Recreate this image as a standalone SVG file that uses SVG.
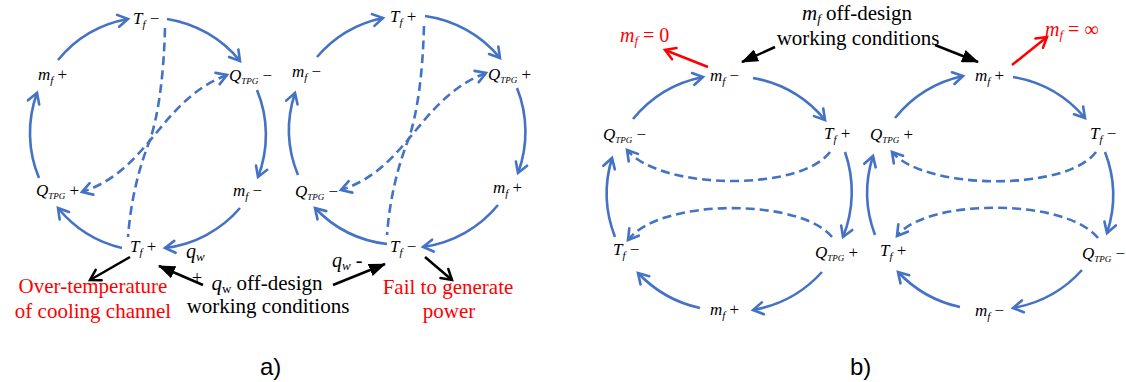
<svg xmlns="http://www.w3.org/2000/svg" width="1126" height="382" viewBox="0 0 1126 382">
<style>
text{font-family:"Liberation Serif","Times New Roman",serif;fill:#000}
.n{font-size:17px}
.i{font-style:italic}
.s{font-size:11px;font-style:italic}
.sq{font-size:9px;font-style:italic}
.big{font-size:21px}
.red{fill:#FF0000}
.lab{font-family:"Liberation Sans",Arial,sans-serif;font-size:24px}
.c{fill:none;stroke:#4472C4;stroke-width:2.6}
.sol{marker-end:url(#ab)}
.d{stroke-dasharray:9 5}
.k{fill:none;stroke:#000;stroke-width:2.5}
.r{fill:none;stroke:#FF0000;stroke-width:2.5;marker-end:url(#ar)}
</style>
<defs>
<marker id="ab" markerUnits="userSpaceOnUse" markerWidth="16" markerHeight="16" viewBox="0 0 16 16" refX="13" refY="8" orient="auto-start-reverse"><path d="M3,2 L13,8 L3,14" fill="none" stroke="#4472C4" stroke-width="2.6" stroke-linecap="round"/></marker>
<marker id="ak" markerUnits="userSpaceOnUse" markerWidth="16" markerHeight="16" viewBox="0 0 16 16" refX="13" refY="8" orient="auto"><path d="M3,2 L13,8 L3,14" fill="none" stroke="#000" stroke-width="2.5" stroke-linecap="round"/></marker>
<marker id="ar" markerUnits="userSpaceOnUse" markerWidth="16" markerHeight="16" viewBox="0 0 16 16" refX="13" refY="8" orient="auto"><path d="M3,2 L13,8 L3,14" fill="none" stroke="#FF0000" stroke-width="2.5" stroke-linecap="round"/></marker>
<marker id="fk" markerUnits="userSpaceOnUse" markerWidth="17" markerHeight="13" viewBox="0 0 17 13" refX="16" refY="6.5" orient="auto"><path d="M0,0 L17,6.5 L0,13 z" fill="#000"/></marker>
</defs>

<g id="connectors">
<!-- panel a, left loop -->
<path class="c sol" d="M58,60 A117,117 0 0 1 128,19"/>
<path class="c sol" d="M167,19 A117,117 0 0 1 240,61"/>
<path class="c sol" d="M257,90 A117,117 0 0 1 258,177"/>
<path class="c sol" d="M240,208 A117,117 0 0 1 165,248"/>
<path class="c sol" d="M122,248 A117,117 0 0 1 58,208"/>
<path class="c sol" d="M39,178 A117,117 0 0 1 37,93"/>
<path class="c d" d="M165,28 Q163,100 150,140 Q132,185 128,237"/>
<path class="c d" d="M227,75 C160,100 150,170 82,192" marker-start="url(#ab)" marker-end="url(#ab)"/>
<!-- panel a, right loop -->
<path class="c sol" d="M317,57 A118,118 0 0 1 383,18"/>
<path class="c sol" d="M425,16 A118,118 0 0 1 500,58"/>
<path class="c sol" d="M517,88 A118,118 0 0 1 518,173"/>
<path class="c sol" d="M498,205 A118,118 0 0 1 423,247"/>
<path class="c sol" d="M387,244 A118,118 0 0 1 315,208"/>
<path class="c sol" d="M298,175 A118,118 0 0 1 295,93"/>
<path class="c d" d="M424,26 Q422,98 409,138 Q391,183 387,235"/>
<path class="c d" d="M486,73 C419,98 409,168 341,190" marker-start="url(#ab)" marker-end="url(#ab)"/>
<!-- panel a, black arrows -->
<path class="k" d="M130,257 L90,280" marker-end="url(#ak)"/>
<path class="k" d="M203,285 L159,266" marker-end="url(#fk)"/>
<path class="k" d="M333,285 L385,264" marker-end="url(#fk)"/>
<path class="k" d="M425,257 L452,280" marker-end="url(#ak)"/>
<!-- panel b, left loop -->
<path class="c sol" d="M633,119 A121,121 0 0 1 703,77"/>
<path class="c sol" d="M753,78 A121,121 0 0 1 825,120"/>
<path class="c sol" d="M845,152 A121,121 0 0 1 843,237"/>
<path class="c sol" d="M822,272 A121,121 0 0 1 753,310"/>
<path class="c sol" d="M700,308 A121,121 0 0 1 638,273"/>
<path class="c sol" d="M615,237 A121,121 0 0 1 612,158"/>
<path class="c d sol" d="M830,152 C800,192 660,190 627,150"/>
<path class="c d sol" d="M832,237 C800,198 660,198 628,240"/>
<!-- panel b, right loop -->
<path class="c sol" d="M895,118 A120,120 0 0 1 963,76"/>
<path class="c sol" d="M1013,77 A120,120 0 0 1 1085,118"/>
<path class="c sol" d="M1105,152 A120,120 0 0 1 1107,233"/>
<path class="c sol" d="M1082,270 A120,120 0 0 1 1013,308"/>
<path class="c sol" d="M960,307 A120,120 0 0 1 898,272"/>
<path class="c sol" d="M875,235 A120,120 0 0 1 873,156"/>
<path class="c d sol" d="M1096,152 C1066,192 924,190 892,152"/>
<path class="c d sol" d="M1098,238 C1066,198 926,198 897,236"/>
<!-- panel b, black and red arrows -->
<path class="k" d="M775,47 L742,62" marker-end="url(#fk)"/>
<path class="k" d="M935,45 L978,62" marker-end="url(#fk)"/>
<path class="r" d="M708,67 L665,50"/>
<path class="r" d="M1012,65 L1047,37"/>
</g>

<!-- panel a left loop nodes -->
<g id="a1-Tf-minus"><text class="n" x="133" y="24"><tspan class="i">T</tspan><tspan class="s" dy="4">f</tspan><tspan dy="-4"> −</tspan></text></g>
<g id="a1-mf-plus"><text class="n" x="38" y="80"><tspan class="i">m</tspan><tspan class="s" dy="4">f</tspan><tspan dy="-4"> +</tspan></text></g>
<g id="a1-Q-minus"><text class="n" x="229" y="81"><tspan class="i">Q</tspan><tspan class="sq" dy="3">TPG</tspan><tspan dy="-3"> −</tspan></text></g>
<g id="a1-Q-plus"><text class="n" x="36" y="196"><tspan class="i">Q</tspan><tspan class="sq" dy="3">TPG</tspan><tspan dy="-3"> +</tspan></text></g>
<g id="a1-mf-minus"><text class="n" x="233" y="196"><tspan class="i">m</tspan><tspan class="s" dy="4">f</tspan><tspan dy="-4"> −</tspan></text></g>
<g id="a1-Tf-plus"><text class="n" x="130" y="252"><tspan class="i">T</tspan><tspan class="s" dy="4">f</tspan><tspan dy="-4"> +</tspan></text></g>
<g id="a1-qw"><text x="186" y="258" font-size="20"><tspan class="i">q</tspan><tspan font-size="13" font-style="italic" dy="3">w</tspan></text>
<text x="192" y="284" font-size="18">+</text></g>

<!-- panel a right loop nodes -->
<g id="a2-Tf-plus"><text class="n" x="390" y="22"><tspan class="i">T</tspan><tspan class="s" dy="4">f</tspan><tspan dy="-4"> +</tspan></text></g>
<g id="a2-mf-minus"><text class="n" x="292" y="77"><tspan class="i">m</tspan><tspan class="s" dy="4">f</tspan><tspan dy="-4"> −</tspan></text></g>
<g id="a2-Q-plus"><text class="n" x="488" y="80"><tspan class="i">Q</tspan><tspan class="sq" dy="3">TPG</tspan><tspan dy="-3"> +</tspan></text></g>
<g id="a2-Q-minus"><text class="n" x="295" y="197"><tspan class="i">Q</tspan><tspan class="sq" dy="3">TPG</tspan><tspan dy="-3"> −</tspan></text></g>
<g id="a2-mf-plus"><text class="n" x="493" y="193"><tspan class="i">m</tspan><tspan class="s" dy="4">f</tspan><tspan dy="-4"> +</tspan></text></g>
<g id="a2-Tf-minus"><text class="n" x="390" y="252"><tspan class="i">T</tspan><tspan class="s" dy="4">f</tspan><tspan dy="-4"> −</tspan></text></g>
<g id="a2-qw"><text x="332" y="267" font-size="20"><tspan class="i">q</tspan><tspan font-size="13" font-style="italic" dy="3">w</tspan><tspan dy="-3"> -</tspan></text></g>

<!-- panel a annotations -->
<g id="a-overtemp"><text class="big red" x="93" y="293" text-anchor="middle">Over-temperature</text><text class="big red" x="93" y="318" text-anchor="middle">of cooling channel</text></g>
<g id="a-qw-offdesign"><text class="big" x="267" y="290" text-anchor="middle"><tspan class="i">q</tspan><tspan font-size="13" dy="3">w</tspan><tspan dy="-3"> off-design</tspan></text><text class="big" x="268" y="313" text-anchor="middle">working conditions</text></g>
<g id="a-fail"><text class="big red" x="448" y="294" text-anchor="middle">Fail to generate</text><text class="big red" x="449" y="318" text-anchor="middle">power</text></g>
<g id="label-a"><text class="lab" x="260" y="375">a)</text></g>

<!-- panel b left loop nodes -->
<g id="b1-mf-minus"><text class="n" x="710" y="81"><tspan class="i">m</tspan><tspan class="s" dy="4">f</tspan><tspan dy="-4"> −</tspan></text></g>
<g id="b1-Q-minus"><text class="n" x="603" y="140"><tspan class="i">Q</tspan><tspan class="sq" dy="3">TPG</tspan><tspan dy="-3"> −</tspan></text></g>
<g id="b1-Tf-plus"><text class="n" x="824" y="139"><tspan class="i">T</tspan><tspan class="s" dy="4">f</tspan><tspan dy="-4"> +</tspan></text></g>
<g id="b1-Tf-minus"><text class="n" x="613" y="255"><tspan class="i">T</tspan><tspan class="s" dy="4">f</tspan><tspan dy="-4"> −</tspan></text></g>
<g id="b1-Q-plus"><text class="n" x="815" y="258"><tspan class="i">Q</tspan><tspan class="sq" dy="3">TPG</tspan><tspan dy="-3"> +</tspan></text></g>
<g id="b1-mf-plus"><text class="n" x="710" y="315"><tspan class="i">m</tspan><tspan class="s" dy="4">f</tspan><tspan dy="-4"> +</tspan></text></g>

<!-- panel b right loop nodes -->
<g id="b2-mf-plus"><text class="n" x="975" y="81"><tspan class="i">m</tspan><tspan class="s" dy="4">f</tspan><tspan dy="-4"> +</tspan></text></g>
<g id="b2-Q-plus"><text class="n" x="870" y="140"><tspan class="i">Q</tspan><tspan class="sq" dy="3">TPG</tspan><tspan dy="-3"> +</tspan></text></g>
<g id="b2-Tf-minus"><text class="n" x="1090" y="139"><tspan class="i">T</tspan><tspan class="s" dy="4">f</tspan><tspan dy="-4"> −</tspan></text></g>
<g id="b2-Tf-plus"><text class="n" x="880" y="256"><tspan class="i">T</tspan><tspan class="s" dy="4">f</tspan><tspan dy="-4"> +</tspan></text></g>
<g id="b2-Q-minus"><text class="n" x="1082" y="259"><tspan class="i">Q</tspan><tspan class="sq" dy="3">TPG</tspan><tspan dy="-3"> −</tspan></text></g>
<g id="b2-mf-minus"><text class="n" x="975" y="316"><tspan class="i">m</tspan><tspan class="s" dy="4">f</tspan><tspan dy="-4"> −</tspan></text></g>

<!-- panel b annotations -->
<g id="b-mf-offdesign"><text class="big" x="857" y="20" text-anchor="middle"><tspan class="i">m</tspan><tspan font-size="13" font-style="italic" dy="3">f</tspan><tspan dy="-3"> off-design</tspan></text><text class="big" x="858" y="45" text-anchor="middle">working conditions</text></g>
<g id="b-mf-zero"><text class="red" x="620" y="42" font-size="20"><tspan class="i">m</tspan><tspan font-size="13" font-style="italic" dy="3">f</tspan><tspan dy="-3"> = 0</tspan></text></g>
<g id="b-mf-inf"><text class="red" x="1045" y="36" font-size="20"><tspan class="i">m</tspan><tspan font-size="13" font-style="italic" dy="3">f</tspan><tspan dy="-3"> = ∞</tspan></text></g>
<g id="label-b"><text class="lab" x="850" y="375">b)</text></g>
</svg>
